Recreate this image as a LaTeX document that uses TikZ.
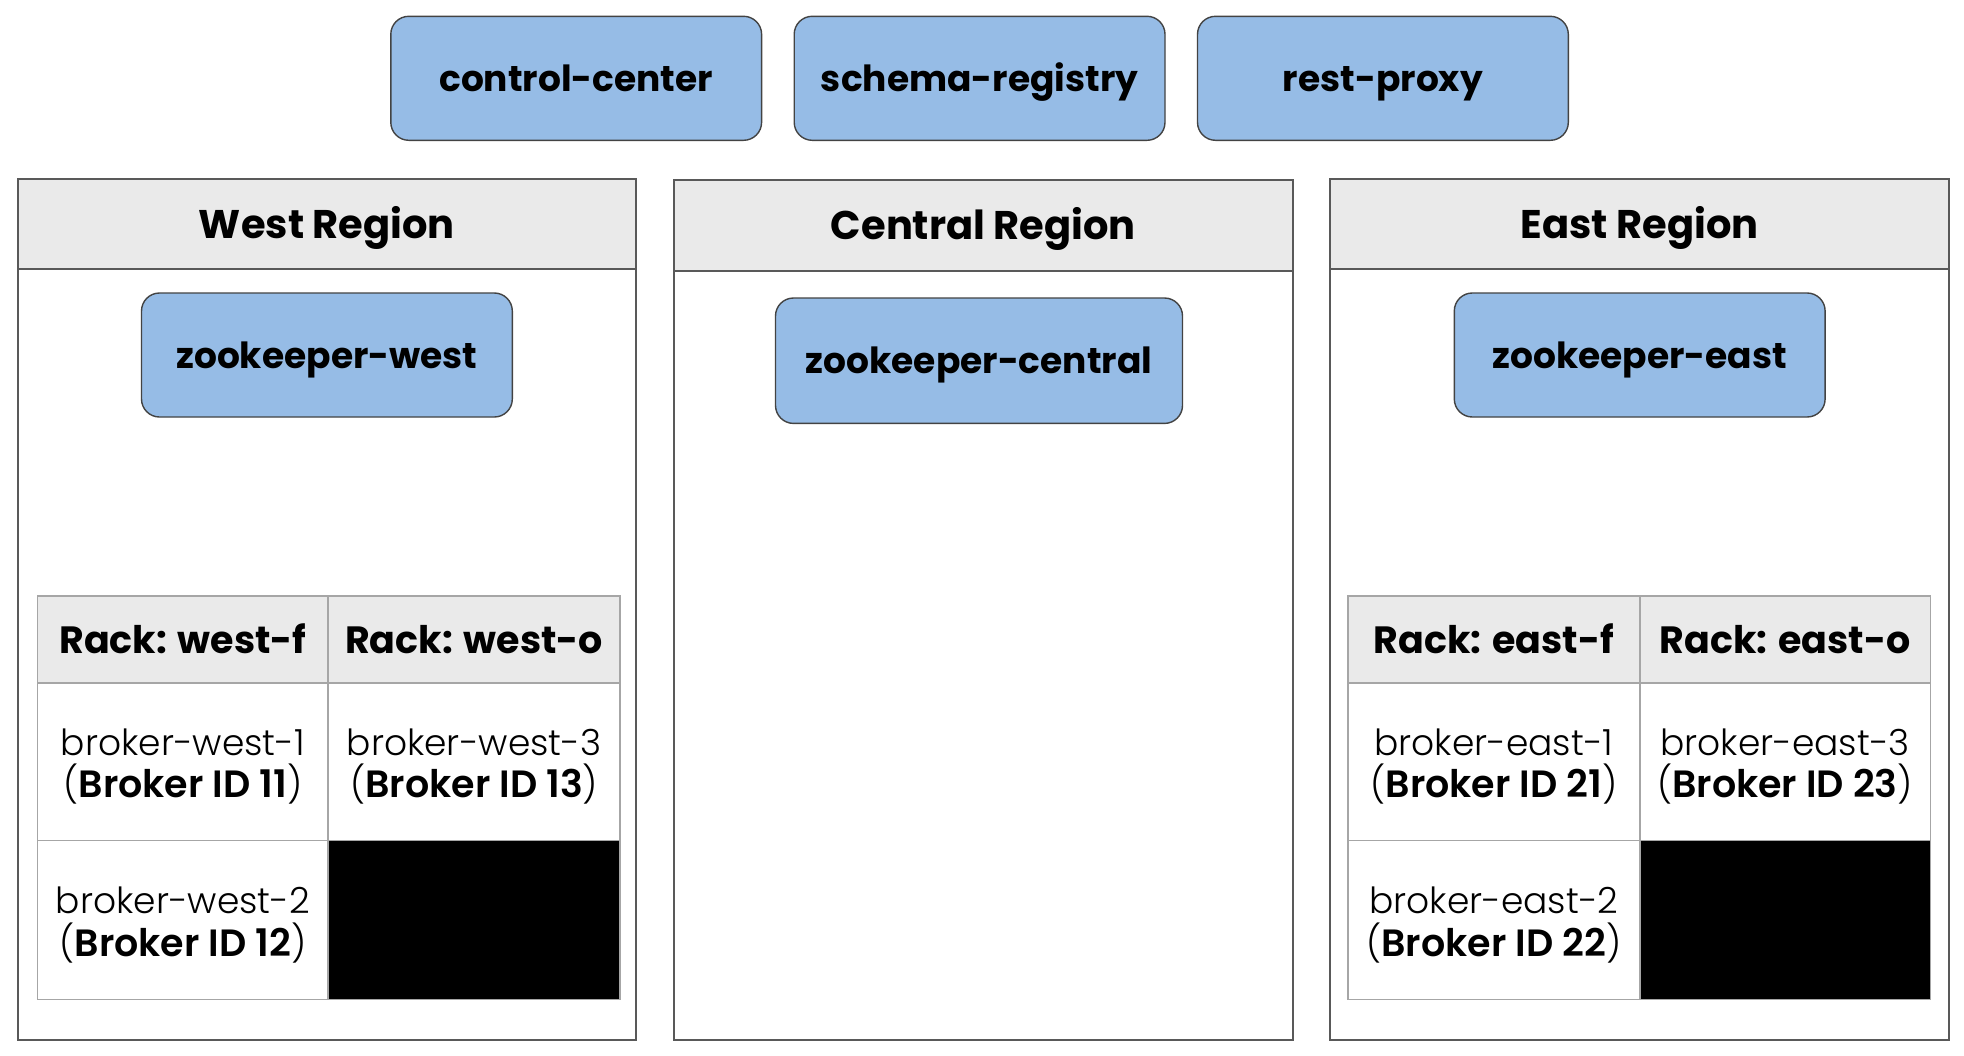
\documentclass[tikz,border=0pt]{standalone}
\usepackage{fontspec}
\setmainfont{Poppins}
\newfontfamily\lightfont{Poppins Light}
\definecolor{boxblue}{HTML}{96BCE6}
\definecolor{boxline}{HTML}{434343}
\definecolor{headfill}{HTML}{EAEAEA}
\definecolor{regline}{HTML}{595959}
\definecolor{cellline}{HTML}{A6A6A6}
\newcommand{\bid}[1]{{\fontsize{19}{21.3}\selectfont\bfseries #1}}
\begin{document}
\begin{tikzpicture}[x=0.5pt,y=-0.5pt,
  svc/.style={draw=boxline, fill=boxblue, rounded corners=9pt, line width=0.7pt,
    font=\fontsize{18}{22}\selectfont\bfseries, inner sep=0pt, text height=13pt, text depth=0pt},
  region/.style={draw=regline, line width=1pt, fill=white, inner sep=0pt,
    minimum width=309.4pt, minimum height=430.5pt},
  reghead/.style={draw=regline, line width=1pt, fill=headfill, inner sep=0pt,
    minimum width=309.4pt, minimum height=45pt, font=\fontsize{20}{22}\selectfont\bfseries,
    text height=14pt, text depth=0pt},
  cell/.style={draw=cellline, line width=0.8pt, inner sep=0pt},
  celltext/.style={align=center, inner sep=0pt, font=\fontsize{18}{21.3}\selectfont\lightfont, yshift=-2.5pt},
  rackhead/.style={cell, fill=headfill, minimum height=43.25pt, font=\fontsize{19}{22}\selectfont\bfseries,
    text height=13.5pt, text depth=0pt},
  brow1/.style={cell, minimum height=78.9pt},
  brow2/.style={cell, minimum height=79.5pt},
  blank/.style={cell, fill=black}
]
\useasboundingbox (0,0) rectangle (1964,1055);

% top services
\node[svc, minimum width=185.4pt, minimum height=62pt] (cc) at (576.2,78.3) {control-center};
\node[svc, minimum width=185.4pt, minimum height=62pt] (sr) at (979.6,78.3) {schema-registry};
\node[svc, minimum width=185.4pt, minimum height=62pt] (rp) at (1382.9,78.3) {rest-proxy};

% regions
\node[region] (west) at (326.9,609.5) {};
\node[reghead] (westh) at (326.9,224) {West Region};
\node[region, minimum height=430pt] (central) at (983.4,610) {};
\node[reghead, minimum height=45.5pt] (centralh) at (983.4,225.5) {Central Region};
\node[region] (east) at (1639.7,609.5) {};
\node[reghead] (easth) at (1639.7,224) {East Region};

% zookeepers
\node[svc, minimum width=185.4pt, minimum height=62pt] (zkw) at (326.9,355) {zookeeper-west};
\node[svc, minimum width=203.5pt, minimum height=62.7pt] (zkc) at (979,360.7) {zookeeper-central};
\node[svc, minimum width=185.4pt, minimum height=62pt] (zke) at (1639.7,355) {zookeeper-east};

% west table
\node[rackhead, minimum width=145.3pt] (wh1) at (182.9,639.5) {Rack: west-f};
\node[rackhead, minimum width=145.9pt] (wh2) at (474.1,639.5) {Rack: west-o};
\node[brow1, minimum width=145.3pt] (w11) at (182.9,761.6) {};
\node[celltext] (w11t) at (w11.center) {broker-west-1\\(\bid{Broker ID 11})};
\node[brow1, minimum width=145.9pt] (w12) at (474.1,761.6) {};
\node[celltext] (w12t) at (w12.center) {broker-west-3\\(\bid{Broker ID 13})};
\node[brow2, minimum width=145.3pt] (w21) at (182.9,920) {};
\node[celltext] (w21t) at (w21.center) {broker-west-2\\(\bid{Broker ID 12})};
\node[brow2, blank, minimum width=145.9pt] (w22) at (474.1,920) {};

% east table
\node[rackhead, minimum width=145.95pt] (eh1) at (1493.8,639.5) {Rack: east-f};
\node[rackhead, minimum width=145.3pt] (eh2) at (1785,639.5) {Rack: east-o};
\node[brow1, minimum width=145.95pt] (e11) at (1493.8,761.6) {};
\node[celltext] (e11t) at (e11.center) {broker-east-1\\(\bid{Broker ID 21})};
\node[brow1, minimum width=145.3pt] (e12) at (1785,761.6) {};
\node[celltext] (e12t) at (e12.center) {broker-east-3\\(\bid{Broker ID 23})};
\node[brow2, minimum width=145.95pt] (e21) at (1493.8,920) {};
\node[celltext] (e21t) at (e21.center) {broker-east-2\\(\bid{Broker ID 22})};
\node[brow2, blank, minimum width=145.3pt] (e22) at (1785,920) {};
\end{tikzpicture}
\end{document}
